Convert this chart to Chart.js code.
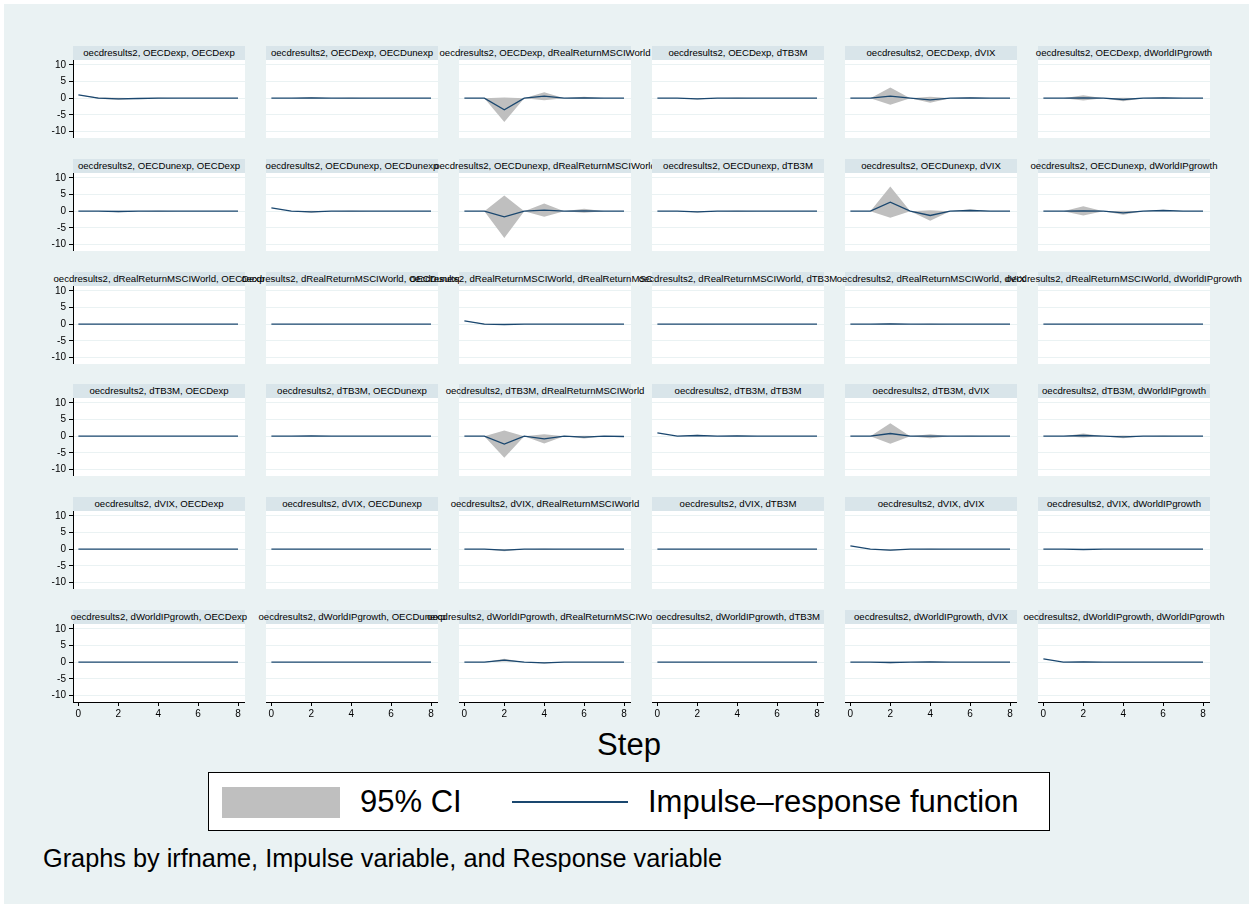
<!DOCTYPE html>
<html>
<head>
<meta charset="utf-8">
<title>IRF grid</title>
<script src="https://cdn.jsdelivr.net/npm/chart.js@4.4.1/dist/chart.umd.min.js"></script>
<style>
  body { margin: 0; background: #fff; font-family: "Liberation Sans", Arial, sans-serif; color: #000; }
  #region { position: absolute; left: 4px; top: 4px; width: 1245px; height: 900px; background: #eaf2f3; }
  .bar { position: absolute; height: 14px; background: #d9e5ea; display: flex; justify-content: center;
         align-items: center; white-space: nowrap; font-size: 9.6px; line-height: 14px; }
  .bar span { flex: none; }
  canvas { position: absolute; }
  #legend { position: absolute; left: 208px; top: 772px; width: 840px; height: 57px; background: #fff; border: 1px solid #000; }
  #legend .swatch { position: absolute; left: 13px; top: 14px; width: 118px; height: 31px; background: #bfbfbf; }
  #legend .lineKey { position: absolute; left: 303px; top: 28px; width: 116px; height: 2px; background: #1a476f; }
  #legend .txt { position: absolute; top: 11px; font-size: 31px; line-height: 36px; white-space: nowrap; }
  #xtitle { position: absolute; left: 529px; width: 200px; top: 727px; text-align: center; font-size: 31px; line-height: 36px; }
  #note { position: absolute; left: 43px; top: 844px; font-size: 25.3px; line-height: 28px; white-space: nowrap; }
</style>
</head>
<body>
<div id="region"></div>
<div id="panels"></div>
<div id="xtitle">Step</div>
<div id="legend">
  <div class="swatch"></div>
  <div class="txt" style="left:151px">95% CI</div>
  <div class="lineKey"></div>
  <div class="txt" style="left:439px">Impulse–response function</div>
</div>
<div id="note">Graphs by irfname, Impulse variable, and Response variable</div>

<script>
// irf results and variables
const irfName = 'oecdresults2';
const steps = [0, 1, 2, 3, 4, 5, 6, 7, 8];
const variables = ['OECDexp', 'OECDunexp', 'dRealReturnMSCIWorld', 'dTB3M', 'dVIX', 'dWorldIPgrowth'];
const yTickValues = [-10, -5, 0, 5, 10];
const xTickValues = [0, 2, 4, 6, 8];

// responses to each impulse, one row per response variable (same order as variables)
const irfOECDexp = [
  [1, 0, -0.2, -0.1, 0, 0, 0, 0, 0],
  [0, 0, 0.1, 0, 0, 0, 0, 0, 0],
  [0, 0, -3.5, 0, 0.6, 0, 0.1, 0, 0],
  [0, 0, -0.2, 0, 0, 0, 0, 0, 0],
  [0, 0, 0.6, 0, -0.5, 0, 0.1, 0, 0],
  [0, 0, 0.1, 0, -0.4, 0, 0.1, 0, 0]
];
const irfOECDunexp = [
  [0, 0, -0.1, 0, 0, 0, 0, 0, 0],
  [1, 0, -0.2, 0, 0, 0, 0, 0, 0],
  [0, 0, -1.7, 0, 0.3, 0, 0.1, 0, 0],
  [0, 0, -0.2, 0, 0, 0, 0, 0, 0],
  [0, 0, 2.7, 0, -1.3, 0, 0.2, 0, 0],
  [0, 0, 0.1, 0, -0.5, 0, 0.2, 0, 0]
];
const irfRealReturn = [
  [0, 0, 0, 0, 0, 0, 0, 0, 0],
  [0, 0, 0, 0, 0, 0, 0, 0, 0],
  [1, 0, -0.1, 0, 0, 0, 0, 0, 0],
  [0, 0, 0, 0, 0, 0, 0, 0, 0],
  [0, 0, 0.1, 0, 0, 0, 0, 0, 0],
  [0, 0, 0, 0, 0, 0, 0, 0, 0]
];
const irfTB3M = [
  [0, 0, 0, 0, 0, 0, 0, 0, 0],
  [0, 0, 0.05, 0, 0, 0, 0, 0, 0],
  [0, 0, -2.4, 0, -0.8, 0, -0.3, 0, -0.1],
  [1, 0, 0.2, 0, 0.1, 0, 0, 0, 0],
  [0, 0, 0.8, 0, 0, 0, 0, 0, 0],
  [0, 0, 0.2, 0, -0.2, 0, 0, 0, 0]
];
const irfVIX = [
  [0, 0, 0, 0, 0, 0, 0, 0, 0],
  [0, 0, 0, 0, 0, 0, 0, 0, 0],
  [0, 0, -0.3, 0, 0, 0, 0, 0, 0],
  [0, 0, 0, 0, 0, 0, 0, 0, 0],
  [1, 0, -0.3, 0, 0, 0, 0, 0, 0],
  [0, 0, -0.1, 0, 0, 0, 0, 0, 0]
];
const irfWorldIP = [
  [0, 0, 0, 0, 0, 0, 0, 0, 0],
  [0, 0, 0, 0, 0, 0, 0, 0, 0],
  [0, 0, 0.6, 0, -0.2, 0, 0, 0, 0],
  [0, 0, 0, 0, 0, 0, 0, 0, 0],
  [0, 0, -0.1, 0, 0.1, 0, 0, 0, 0],
  [1, 0, 0.1, 0, 0, 0, 0, 0, 0]
];

// half-width of the 95% band around each response
const ciOECDexp = [
  [0, 0.2, 0.3, 0.1, 0.1, 0, 0, 0, 0],
  [0, 0, 0.2, 0, 0.1, 0, 0, 0, 0],
  [0, 0, 3.7, 0, 1.2, 0, 0.3, 0, 0],
  [0, 0, 0.2, 0, 0.1, 0, 0, 0, 0],
  [0, 0, 2.6, 0, 0.9, 0, 0.2, 0, 0],
  [0, 0, 0.8, 0, 0.5, 0, 0.1, 0, 0]
];
const ciOECDunexp = [
  [0, 0, 0.2, 0, 0.1, 0, 0, 0, 0],
  [0, 0, 0.3, 0, 0.1, 0, 0, 0, 0],
  [0, 0, 6.4, 0, 2.0, 0, 0.6, 0, 0],
  [0, 0, 0.2, 0, 0.1, 0, 0, 0, 0],
  [0, 0, 4.7, 0, 1.6, 0, 0.4, 0, 0],
  [0, 0, 1.4, 0, 0.6, 0, 0.2, 0, 0]
];
const ciRealReturn = [
  [0, 0, 0.05, 0, 0, 0, 0, 0, 0],
  [0, 0, 0.05, 0, 0, 0, 0, 0, 0],
  [0, 0.1, 0.15, 0, 0, 0, 0, 0, 0],
  [0, 0, 0.05, 0, 0, 0, 0, 0, 0],
  [0, 0, 0.2, 0, 0.1, 0, 0, 0, 0],
  [0, 0, 0.05, 0, 0, 0, 0, 0, 0]
];
const ciTB3M = [
  [0, 0, 0.05, 0, 0, 0, 0, 0, 0],
  [0, 0, 0.1, 0, 0, 0, 0, 0, 0],
  [0, 0, 4.1, 0, 1.4, 0, 0.4, 0, 0.1],
  [0, 0, 0.2, 0, 0.1, 0, 0, 0, 0],
  [0, 0, 3.1, 0, 0.6, 0, 0.1, 0, 0],
  [0, 0, 0.6, 0, 0.4, 0, 0.1, 0, 0]
];
const ciVIX = [
  [0, 0, 0.05, 0, 0, 0, 0, 0, 0],
  [0, 0, 0.05, 0, 0, 0, 0, 0, 0],
  [0, 0, 0.3, 0, 0.1, 0, 0, 0, 0],
  [0, 0, 0.05, 0, 0, 0, 0, 0, 0],
  [0, 0, 0.2, 0, 0.1, 0, 0, 0, 0],
  [0, 0, 0.1, 0, 0.05, 0, 0, 0, 0]
];
const ciWorldIP = [
  [0, 0, 0.05, 0, 0, 0, 0, 0, 0],
  [0, 0, 0.05, 0, 0, 0, 0, 0, 0],
  [0, 0, 0.4, 0, 0.2, 0, 0, 0, 0],
  [0, 0, 0.05, 0, 0, 0, 0, 0, 0],
  [0, 0, 0.2, 0, 0.1, 0, 0, 0, 0],
  [0, 0, 0.1, 0, 0.05, 0, 0, 0, 0]
];

const irfByImpulse = [irfOECDexp, irfOECDunexp, irfRealReturn, irfTB3M, irfVIX, irfWorldIP];
const ciByImpulse = [ciOECDexp, ciOECDunexp, ciRealReturn, ciTB3M, ciVIX, ciWorldIP];

// panel geometry
const PLOT_LEFT = 73, COL_STEP = 193, PLOT_W = 172;
const PLOT_TOP = 60, ROW_STEP = 112.8, PLOT_H = 78;
const BAR_H = 14, YAXIS_W = 33, XAXIS_H = 22;

const NAVY = '#1a476f';
const CI_GREY = '#bfbfbf';
const GRID = '#eaf2f3';

// white plot region behind the series
const plotBg = {
  id: 'plotBg',
  beforeDraw(chart) {
    const a = chart.chartArea;
    const ctx = chart.ctx;
    ctx.save();
    ctx.fillStyle = '#fff';
    ctx.fillRect(a.left, a.top, a.right - a.left, a.bottom - a.top);
    ctx.restore();
  }
};

const holder = document.getElementById('panels');

function makePanel(r, c) {
  const left = PLOT_LEFT + c * COL_STEP;
  const top = Math.round(PLOT_TOP + r * ROW_STEP);
  const firstCol = c === 0;
  const lastRow = r === variables.length - 1;

  const bar = document.createElement('div');
  bar.className = 'bar';
  bar.style.left = left + 'px';
  bar.style.top = (top - BAR_H) + 'px';
  bar.style.width = PLOT_W + 'px';
  bar.innerHTML = '<span>' + irfName + ', ' + variables[r] + ', ' + variables[c] + '</span>';
  holder.appendChild(bar);

  const cv = document.createElement('canvas');
  const w = PLOT_W + (firstCol ? YAXIS_W : 0);
  const h = PLOT_H + (lastRow ? XAXIS_H : 0);
  cv.width = w; cv.height = h;
  cv.style.left = (left - (firstCol ? YAXIS_W : 0)) + 'px';
  cv.style.top = top + 'px';
  cv.style.width = w + 'px'; cv.style.height = h + 'px';
  holder.appendChild(cv);

  const irf = irfByImpulse[r][c];
  const ci = ciByImpulse[r][c];
  const line = steps.map((s, i) => ({ x: s, y: irf[i] }));
  const lower = steps.map((s, i) => ({ x: s, y: irf[i] - ci[i] }));
  const upper = steps.map((s, i) => ({ x: s, y: irf[i] + ci[i] }));

  new Chart(cv, {
    type: 'line',
    data: {
      datasets: [
        { data: line, borderColor: NAVY, borderWidth: 1.3, pointRadius: 0, fill: false, tension: 0 },
        { data: lower, borderColor: 'rgba(0,0,0,0)', borderWidth: 0, pointRadius: 0, fill: false },
        { data: upper, borderColor: 'rgba(0,0,0,0)', borderWidth: 0, pointRadius: 0, fill: '-1', backgroundColor: CI_GREY }
      ]
    },
    options: {
      responsive: false,
      maintainAspectRatio: false,
      animation: false,
      events: [],
      layout: { padding: 0, autoPadding: false },
      plugins: { legend: { display: false }, tooltip: { enabled: false } },
      scales: {
        x: {
          type: 'linear', min: -0.27, max: 8.35, display: lastRow,
          afterBuildTicks: s => { s.ticks = xTickValues.map(v => ({ value: v })); },
          afterFit: s => {
            s.height = lastRow ? XAXIS_H : 0;
            s.paddingLeft = 0; s.paddingRight = 0;
          },
          grid: { drawOnChartArea: false, tickLength: 4, tickColor: '#000' },
          border: { color: '#000', width: 1 },
          ticks: { color: '#000', font: { family: 'Liberation Sans', size: 10 }, padding: 2, maxRotation: 0 }
        },
        y: {
          min: -12, max: 11.5,
          afterBuildTicks: s => { s.ticks = yTickValues.map(v => ({ value: v })); },
          afterFit: s => {
            s.width = firstCol ? YAXIS_W : 0;
            // keep the plot the full canvas height; labels may sit near the edge
            s.paddingTop = 0; s.paddingBottom = 0;
          },
          grid: { color: GRID, lineWidth: 1, drawTicks: firstCol, tickLength: 4, tickColor: '#000' },
          border: { display: firstCol, color: '#000', width: 1 },
          ticks: { display: firstCol, color: '#000', font: { family: 'Liberation Sans', size: 10 }, padding: 3 }
        }
      }
    },
    plugins: [plotBg]
  });
}

for (let r = 0; r < variables.length; r++) {
  for (let c = 0; c < variables.length; c++) {
    makePanel(r, c);
  }
}
</script>
</body>
</html>
